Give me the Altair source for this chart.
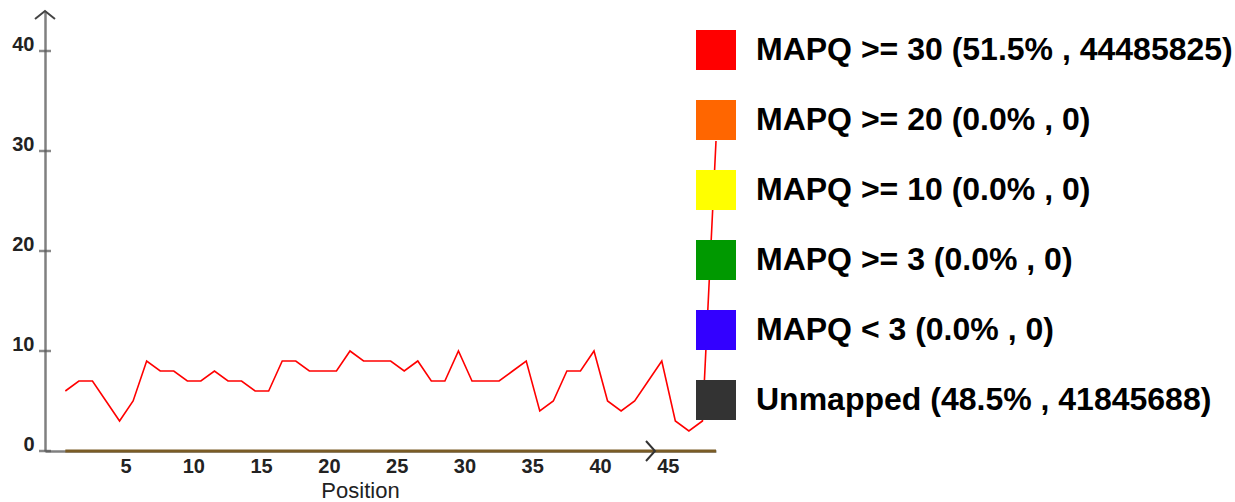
import altair as alt
import pandas as pd

# ---- data ----
positions = list(range(1, 50))
values = [6, 7, 7, 5, 3, 5, 9, 8, 8, 7,
          7, 8, 7, 7, 6, 6, 9, 9, 8, 8,
          8, 10, 9, 9, 9, 8, 9, 7, 7, 10,
          7, 7, 7, 8, 9, 4, 5, 8, 8, 10,
          5, 4, 5, 7, 9, 3, 2, 3, 31]
baseline_values = [0] * len(positions)

categories = [
    "MAPQ >= 30 (51.5% , 44485825)",
    "MAPQ >= 20 (0.0% , 0)",
    "MAPQ >= 10 (0.0% , 0)",
    "MAPQ >= 3 (0.0% , 0)",
    "MAPQ < 3 (0.0% , 0)",
    "Unmapped (48.5% , 41845688)",
]
colors = ["#ff0000", "#ff6600", "#ffff00", "#009900", "#3300ff", "#333333"]

y_ticks = [0, 10, 20, 30, 40]
x_ticks = [5, 10, 15, 20, 25, 30, 35, 40, 45]

x_domain = [-0.5, 49]
y_domain = [0, 44]
arrow_y = {"x": [-0.5], "y": [44]}
arrow_x = {"x": [44.5], "y": [0]}

FONT = "Liberation Sans"

line_df = pd.DataFrame({"pos": positions, "val": values})
base_df = pd.DataFrame({"pos": positions, "val": baseline_values})
tick_df = pd.DataFrame({"pos": [x_domain[0]] * len(y_ticks), "val": y_ticks})
arrow_y_df = pd.DataFrame({"pos": arrow_y["x"], "val": arrow_y["y"]})
arrow_x_df = pd.DataFrame({"pos": arrow_x["x"], "val": arrow_x["y"]})
legend_df = pd.DataFrame({"pos": [1] * len(categories), "val": [0] * len(categories), "cat": categories})

X = alt.X("pos:Q", scale=alt.Scale(domain=x_domain, nice=False, zero=False),
          axis=alt.Axis(values=x_ticks, title="Position", grid=False, ticks=False,
                        domainColor="#808080", domainWidth=2.5,
                        labelFont=FONT, labelFontSize=20, labelFontWeight="bold",
                        labelColor="#222222", labelPadding=5, labelOffset=6,
                        titleFont=FONT, titleFontSize=22, titleFontWeight="normal",
                        titleColor="#222222", titleX=315, titleY=46,
                        titleBaseline="alphabetic", titleAnchor="start", titleAlign="center"))
Y = alt.Y("val:Q", scale=alt.Scale(domain=y_domain, nice=False, zero=True),
          axis=alt.Axis(values=y_ticks, title=None, grid=False, ticks=False,
                        domainColor="#808080", domainWidth=2.5,
                        labelFont=FONT, labelFontSize=20, labelFontWeight="bold",
                        labelColor="#222222", labelPadding=11,
                        labelBaseline="alphabetic", labelOffset=-1))

brown = alt.Chart(base_df).mark_line(color="#7a5c26", strokeWidth=3).encode(x=X, y=Y)
red = alt.Chart(line_df).mark_line(color="#ff0000", strokeWidth=1.6).encode(x=X, y=Y)
ticks = alt.Chart(tick_df).mark_tick(color="#555555", thickness=2.5, size=12,
                                     orient="horizontal").encode(x=X, y=Y)
arr_y = alt.Chart(arrow_y_df).mark_point(shape="M-1,0.8L0,0L1,0.8", size=400, filled=False,
                                         color="#444444", strokeWidth=2, opacity=1).encode(x=X, y=Y)
arr_x = alt.Chart(arrow_x_df).mark_point(shape="M-0.9,-1L0,0L-0.9,1", size=400, filled=False,
                                         color="#333333", strokeWidth=2, opacity=1).encode(x=X, y=Y)
leg = alt.Chart(legend_df).mark_square(size=0, opacity=1).encode(
    x=X, y=Y,
    color=alt.Color("cat:N", scale=alt.Scale(domain=categories, range=colors),
                    legend=alt.Legend(title=None, orient="none", legendX=651, legendY=19,
                                      symbolType="square", symbolSize=1600,
                                      symbolStrokeWidth=0, symbolOpacity=1,
                                      labelFont=FONT, labelFontSize=32,
                                      labelFontWeight="bold", labelColor="#000000",
                                      labelLimit=800, labelOffset=20,
                                      rowPadding=30, padding=0, offset=0)))

chart = alt.layer(brown, red, ticks, arr_y, arr_x, leg).properties(
    width=671, height=440,
    autosize=alt.AutoSizeParams(type="none"),
    padding={"left": 45, "top": 11, "right": 519, "bottom": 51},
    background="white",
).configure_view(stroke=None)

chart.save("out.html", embed_options={"renderer": "svg", "actions": False})
